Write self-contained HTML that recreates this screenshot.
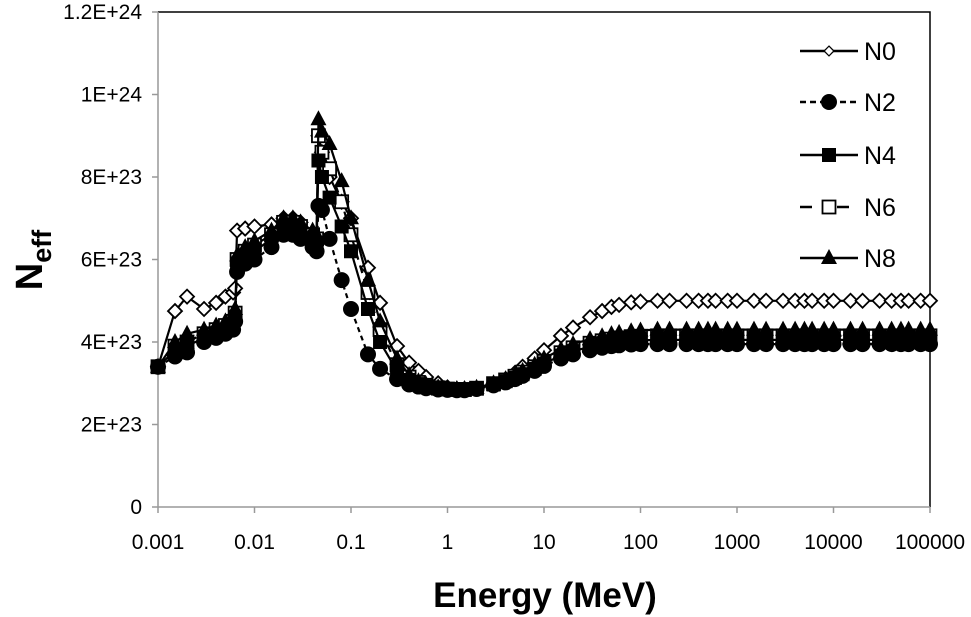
<!DOCTYPE html>
<html><head><meta charset="utf-8"><style>
html,body{margin:0;padding:0;background:#fff;}
svg{display:block;font-family:"Liberation Sans",sans-serif;}
</style></head><body>
<svg id="chart" width="971" height="617" viewBox="0 0 971 617" xmlns="http://www.w3.org/2000/svg"></svg>
<script>
const energies=[0.001,0.0015,0.002,0.003,0.004,0.005,0.006,0.0063,0.0066,0.008,0.01,0.015,0.02,0.025,0.03,0.04,0.044,0.046,0.05,0.06,0.08,0.1,0.15,0.2,0.3,0.4,0.5,0.6,0.8,1,1.25,1.5,2,3,4,5,6,8,10,15,20,30,40,50,60,80,100,150,200,300,400,500,600,800,1000,1500,2000,3000,4000,5000,6000,8000,10000,15000,20000,30000,40000,50000,60000,80000,100000];
const n0=[3.4,4.75,5.1,4.8,4.95,5.1,5.2,5.3,6.7,6.75,6.8,6.85,7.0,7.0,6.9,6.6,6.5,9.0,8.6,8.0,7.4,7.0,5.8,4.95,3.9,3.5,3.3,3.15,3.0,2.9,2.86,2.86,2.88,2.98,3.1,3.25,3.4,3.6,3.8,4.15,4.35,4.6,4.75,4.85,4.9,4.96,4.98,5.0,5.0,5.0,5.0,5.0,5.0,5.0,5.0,5.0,5.0,5.0,5.0,5.0,5.0,5.0,5.0,5.0,5.0,5.0,5.0,5.0,5.0,5.0,5.0];
const n2=[3.4,3.65,3.75,4.0,4.1,4.2,4.3,4.5,5.7,5.9,6.0,6.3,6.6,6.6,6.5,6.3,6.2,7.3,7.2,6.5,5.5,4.8,3.7,3.35,3.1,2.97,2.92,2.88,2.85,2.84,2.83,2.83,2.86,2.95,3.02,3.1,3.18,3.3,3.42,3.6,3.7,3.8,3.86,3.9,3.92,3.94,3.95,3.95,3.95,3.95,3.95,3.95,3.95,3.95,3.95,3.95,3.95,3.95,3.95,3.95,3.95,3.95,3.95,3.95,3.95,3.95,3.95,3.95,3.95,3.95,3.95];
const n4=[3.4,3.8,3.9,4.1,4.2,4.3,4.4,4.6,5.9,6.1,6.2,6.5,6.8,6.8,6.7,6.5,6.4,8.4,8.0,7.5,6.8,6.2,4.8,4.0,3.3,3.08,2.98,2.92,2.87,2.85,2.84,2.84,2.87,2.97,3.05,3.13,3.22,3.35,3.48,3.67,3.78,3.88,3.94,3.98,4.0,4.03,4.04,4.05,4.05,4.05,4.05,4.05,4.05,4.05,4.05,4.05,4.05,4.05,4.05,4.05,4.05,4.05,4.05,4.05,4.05,4.05,4.05,4.05,4.05,4.05,4.05];
const n6=[3.4,3.9,4.0,4.2,4.3,4.4,4.5,4.7,6.0,6.2,6.35,6.6,6.9,6.9,6.8,6.6,6.5,9.0,8.6,8.2,7.4,6.6,5.2,4.3,3.45,3.15,3.02,2.95,2.89,2.86,2.85,2.85,2.88,2.99,3.08,3.17,3.27,3.4,3.53,3.74,3.86,3.97,4.03,4.07,4.1,4.13,4.14,4.15,4.15,4.15,4.15,4.15,4.15,4.15,4.15,4.15,4.15,4.15,4.15,4.15,4.15,4.15,4.15,4.15,4.15,4.15,4.15,4.15,4.15,4.15,4.15];
const n8=[3.4,4.0,4.2,4.3,4.4,4.5,4.6,4.8,6.1,6.3,6.45,6.7,7.0,7.0,6.9,6.7,6.6,9.4,9.1,8.8,7.9,7.0,5.5,4.5,3.6,3.2,3.05,2.97,2.9,2.87,2.86,2.86,2.89,3.0,3.1,3.2,3.3,3.45,3.6,3.82,3.95,4.07,4.14,4.19,4.22,4.26,4.28,4.3,4.3,4.3,4.3,4.3,4.3,4.3,4.3,4.3,4.3,4.3,4.3,4.3,4.3,4.3,4.3,4.3,4.3,4.3,4.3,4.3,4.3,4.3,4.3];
const xTicks=[0.001,0.01,0.1,1,10,100,1000,10000,100000];
const xTickLabels=["0.001","0.01","0.1","1","10","100","1000","10000","100000"];
const yTicks=[0,2,4,6,8,10,12];
const yTickLabels=["0","2E+23","4E+23","6E+23","8E+23","1E+24","1.2E+24"];
const seriesNames=["N0","N2","N4","N6","N8"];

const svg=document.getElementById('chart');
const NS='http://www.w3.org/2000/svg';
const X0=158,X1=930,Y0=507,Y1=12;
function xs(e){return X0+(Math.log10(e)+3)/8*(X1-X0);}
function ys(v){return Y0-v/12*(Y0-Y1);}
function mk(t,a,p){const e=document.createElementNS(NS,t);for(const k in a)e.setAttribute(k,a[k]);(p||svg).appendChild(e);return e;}

let fr=mk('path',{d:`M${X0},${Y1}H${X1}V${Y0}`,stroke:'#000','stroke-width':1.5,fill:'none'});


let ya=mk('line',{x1:X0,y1:Y1,x2:X0,y2:Y0,stroke:'#999','stroke-width':1.5});


let xa=mk('line',{x1:X0,y1:Y0,x2:X1,y2:Y0,stroke:'#999','stroke-width':1.5});


yTicks.forEach((v,i)=>{
  const y=ys(v);
  mk('line',{x1:X0-6,y1:y,x2:X0,y2:y,stroke:'#999','stroke-width':1.5});
  const t=mk('text',{x:X0-16,y:y+7,'text-anchor':'end','font-size':21,fill:'#000'});
  t.textContent=yTickLabels[i];
  
  
});
xTicks.forEach((e,i)=>{
  const x=xs(e);
  mk('line',{x1:x,y1:Y0,x2:x,y2:Y0+6,stroke:'#999','stroke-width':1.5});
  const t=mk('text',{x:x,y:Y0+42,'text-anchor':'middle','font-size':21,fill:'#000'});
  t.textContent=xTickLabels[i];
  
  
});
let xt=mk('text',{x:545,y:607,'text-anchor':'middle','font-size':35,'font-weight':'bold',fill:'#000'});
xt.textContent='Energy (MeV)';


let yt=mk('text',{transform:'translate(42,260) rotate(-90)','text-anchor':'middle','font-size':38,'font-weight':'bold',fill:'#000'});
yt.innerHTML='N<tspan font-size="27" dy="9">eff</tspan>';



function marker(kind,x,y,g){
  const s=7;
  if(kind==='diamond')return mk('path',{d:`M${x},${y-s}L${x+s},${y}L${x},${y+s}L${x-s},${y}Z`,fill:'#fff',stroke:'#000','stroke-width':1.8},g);
  if(kind==='circle')return mk('circle',{cx:x,cy:y,r:8,fill:'#000'},g);
  if(kind==='square')return mk('rect',{x:x-7,y:y-7,width:14,height:14,fill:'#000'},g);
  if(kind==='osquare')return mk('rect',{x:x-6.5,y:y-6.5,width:13,height:13,fill:'#fff',stroke:'#000','stroke-width':1.8},g);
  return mk('path',{d:`M${x},${y-9}L${x+8},${y+6}L${x-8},${y+6}Z`,fill:'#000'},g);
}
const series=[n0,n2,n4,n6,n8];
const kinds=['diamond','circle','square','osquare','triangle'];
const dashes=['none','5,4','none','8,6','none'];
const order=[0,3,2,1,4];
order.forEach(si=>{
  const vals=series[si];
  const g=mk('g',{});
  
  
  const n=Math.min(vals.length,energies.length);
  let d='';
  for(let i=0;i<n;i++)d+=(i?'L':'M')+xs(energies[i]).toFixed(1)+','+ys(vals[i]).toFixed(1);
  mk('path',{d:d,fill:'none',stroke:'#000','stroke-width':2.2,'stroke-dasharray':dashes[si]},g);
  for(let i=0;i<n;i++){
    const m=marker(kinds[si],xs(energies[i]),ys(vals[i]),g);
    
    
  }
});
const legY=[51,102,155,207,258];
seriesNames.forEach((nm,i)=>{
  const g=mk('g',{});
  
  
  const y=legY[i];
  if(i===3){
    mk('line',{x1:800,y1:y,x2:812,y2:y,stroke:'#000','stroke-width':2.5},g);
    mk('line',{x1:837,y1:y,x2:849,y2:y,stroke:'#000','stroke-width':2.5},g);
  } else {
    mk('line',{x1:800,y1:y,x2:858,y2:y,stroke:'#000','stroke-width':2.5,'stroke-dasharray':i===1?'6,4':'none'},g);
  }
  const m=marker(kinds[i],829,y,g);
  if(i===0)m.setAttribute('transform',`translate(829,${y}) scale(0.7) translate(-829,${-y})`);
  const t=mk('text',{x:864,y:y+9,'font-size':25,fill:'#000'},g);
  t.textContent=nm;
});
</script>
</body></html>
